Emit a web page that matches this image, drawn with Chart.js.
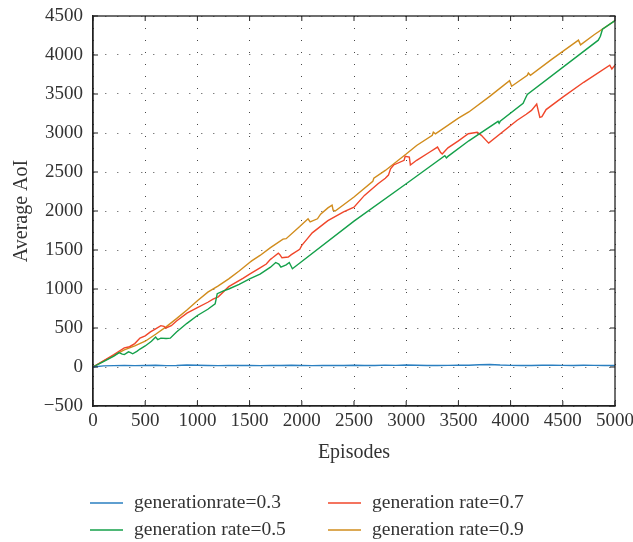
<!DOCTYPE html>
<html>
<head>
<meta charset="utf-8">
<script src="https://cdn.jsdelivr.net/npm/chart.js@4/dist/chart.umd.min.js"></script>
<style>
  html, body { margin: 0; padding: 0; background: #fff; }
  #wrap { width: 633px; height: 542px; position: relative; }
</style>
</head>
<body>
<div id="wrap"><canvas id="c" width="633" height="542"></canvas></div>
<script>
// ---- data ----
const seriesLabels = ['generationrate=0.3', 'generation rate=0.5', 'generation rate=0.7', 'generation rate=0.9'];
const seriesColors = ['#2a7fc0', '#14a04a', '#f0462a', '#d18c1c'];

const epBlue = [0,100,200,300,400,500,600,700,800,900,1000,1100,1200,1300,1400,1500,1600,1700,1800,1900,2000,2100,2200,2300,2400,2500,2600,2700,2800,2900,3000,3100,3200,3300,3400,3500,3600,3700,3800,3900,4000,4100,4200,4300,4400,4500,4600,4700,4800,4900,5000];
const aoiBlue = [0,15,18,20,17,19,22,18,20,25,23,20,18,19,21,20,17,19,20,22,20,18,19,21,20,22,19,20,24,21,26,22,20,19,21,23,22,28,32,25,21,19,20,22,24,21,20,23,21,20,19];

const epG5 = [0,100,200,250,280,300,340,360,380,420,450,500,560,600,620,650,700,740,800,900,1000,1100,1170,1190,1250,1300,1400,1500,1600,1700,1750,1780,1800,1850,1880,1910,2500,3000,3370,3385,3400,3600,3880,3890,3900,4120,4140,4160,4840,4860,4880,5000];
const aoiG5 = [0,70,140,185,165,160,195,185,170,200,230,270,330,385,350,370,365,370,450,560,660,740,810,940,975,1000,1060,1130,1190,1280,1340,1320,1280,1310,1340,1260,1870,2350,2710,2680,2700,2900,3150,3125,3150,3380,3440,3495,4190,4240,4330,4440];

const epG7 = [0,100,200,300,350,400,450,500,550,600,650,680,700,750,800,900,1000,1100,1150,1200,1300,1440,1500,1600,1660,1700,1720,1775,1790,1810,1870,1900,1980,2000,2050,2100,2250,2400,2500,2600,2730,2800,2830,2850,2880,2980,2990,3030,3040,3100,3230,3300,3330,3345,3400,3500,3595,3680,3720,3790,4060,4150,4200,4250,4280,4300,4340,4500,4700,4950,4970,5000];
const aoiG7 = [0,80,160,245,260,300,370,400,450,490,530,520,500,530,590,690,760,830,870,900,1030,1140,1190,1270,1320,1380,1400,1460,1440,1400,1410,1440,1510,1560,1640,1720,1877,1990,2050,2200,2350,2420,2460,2540,2590,2650,2700,2690,2590,2650,2760,2820,2750,2730,2810,2900,2990,3010,2970,2870,3160,3240,3290,3370,3200,3210,3300,3460,3650,3870,3820,3870];

const epG9 = [0,100,200,300,400,500,600,700,800,900,1000,1100,1200,1300,1400,1500,1520,1600,1700,1820,1850,1980,2060,2080,2150,2180,2250,2290,2300,2320,2500,2680,2690,2800,3000,3100,3250,3260,3280,3500,3600,3800,3990,4010,4160,4170,4190,4400,4650,4670,4800,5000];
const aoiG9 = [0,75,150,220,270,330,420,515,620,730,850,960,1040,1130,1230,1340,1360,1430,1530,1640,1645,1800,1900,1860,1900,1960,2040,2075,2010,2000,2180,2380,2420,2520,2730,2840,2970,3010,2990,3190,3270,3470,3670,3600,3740,3770,3740,3950,4190,4130,4260,4440];

const xTicks = [0,500,1000,1500,2000,2500,3000,3500,4000,4500,5000];
const yTicks = [-500,0,500,1000,1500,2000,2500,3000,3500,4000,4500];

// ---- build ----
const FONT = '"Liberation Serif", "Times New Roman", serif';
const pts = (xs, ys) => xs.map((x, i) => ({x: x, y: ys[i]}));
const seriesX = [epBlue, epG5, epG7, epG9];
const seriesY = [aoiBlue, aoiG5, aoiG7, aoiG9];
const datasets = seriesLabels.map((l, i) => ({
  label: l,
  data: pts(seriesX[i], seriesY[i]),
  borderColor: seriesColors[i],
  backgroundColor: seriesColors[i],
  borderWidth: 1.4,
  pointRadius: 0,
  tension: 0,
  fill: false
}));

const framePlugin = {
  id: 'frame',
  afterDraw(chart) {
    const {ctx, chartArea: a} = chart;
    ctx.save();
    ctx.strokeStyle = '#222';
    ctx.lineWidth = 1.3;
    ctx.strokeRect(a.left, a.top, a.right - a.left, a.bottom - a.top);
    // inward tick marks
    ctx.lineWidth = 1;
    const xs = chart.scales.x, ys = chart.scales.y;
    xTicks.forEach(v => {
      const px = xs.getPixelForValue(v);
      ctx.beginPath(); ctx.moveTo(px, a.bottom); ctx.lineTo(px, a.bottom - 5); ctx.stroke();
      ctx.beginPath(); ctx.moveTo(px, a.top); ctx.lineTo(px, a.top + 5); ctx.stroke();
    });
    yTicks.forEach(v => {
      const py = ys.getPixelForValue(v);
      ctx.beginPath(); ctx.moveTo(a.left, py); ctx.lineTo(a.left + 5, py); ctx.stroke();
      ctx.beginPath(); ctx.moveTo(a.right, py); ctx.lineTo(a.right - 5, py); ctx.stroke();
    });
    // legend (two columns, column-major)
    const cols = [90, 328];
    const rows = [503, 530];
    ctx.font = '19.5px ' + FONT;
    ctx.textBaseline = 'middle';
    ctx.textAlign = 'left';
    seriesLabels.forEach((l, i) => {
      const c = Math.floor(i / 2), r = i % 2;
      const x = cols[c], y = rows[r];
      ctx.strokeStyle = seriesColors[i];
      ctx.lineWidth = 1.6;
      ctx.beginPath(); ctx.moveTo(x, y); ctx.lineTo(x + 33, y); ctx.stroke();
      ctx.fillStyle = '#333';
      ctx.fillText(l, x + 44, y);
    });
    ctx.restore();
  }
};

new Chart(document.getElementById('c'), {
  type: 'line',
  data: { datasets: datasets },
  plugins: [framePlugin],
  options: {
    responsive: false,
    animation: false,
    layout: { padding: { left: 0, right: 18, top: 16, bottom: 76 } },
    plugins: { legend: { display: false }, tooltip: { enabled: false } },
    scales: {
      x: {
        type: 'linear',
        min: 0, max: 5000,
        afterBuildTicks(s) { s.ticks = xTicks.map(v => ({value: v})); },
        afterFit(s) { s.height = 60; s.paddingLeft = 0; s.paddingRight = 0; },
        ticks: {
          padding: 4,
          color: '#333',
          font: { family: FONT, size: 19 },
          maxRotation: 0,
          autoSkip: false,
          callback: v => String(v)
        },
        grid: { color: 'rgba(40,40,40,0.85)', lineWidth: 1, drawTicks: false },
        border: { display: true, color: '#222', width: 1.3, dash: [1, 11] },
        title: { display: true, text: 'Episodes', color: '#333', font: { family: FONT, size: 20 }, padding: { top: 0, bottom: 1 } }
      },
      y: {
        type: 'linear',
        min: -500, max: 4500,
        afterBuildTicks(s) { s.ticks = yTicks.map(v => ({value: v})); },
        afterFit(s) { s.width = 93; s.paddingTop = 0; s.paddingBottom = 0; },
        ticks: {
          padding: 10,
          color: '#333',
          font: { family: FONT, size: 19 },
          autoSkip: false,
          callback: v => String(v).replace('-', '\u2212')
        },
        grid: { color: 'rgba(40,40,40,0.85)', lineWidth: 1, drawTicks: false },
        border: { display: true, color: '#222', width: 1.3, dash: [1, 11] },
        title: { display: true, text: 'Average AoI', color: '#333', font: { family: FONT, size: 20 }, padding: { top: 10, bottom: 0 } }
      }
    }
  }
});
</script>
</body>
</html>
